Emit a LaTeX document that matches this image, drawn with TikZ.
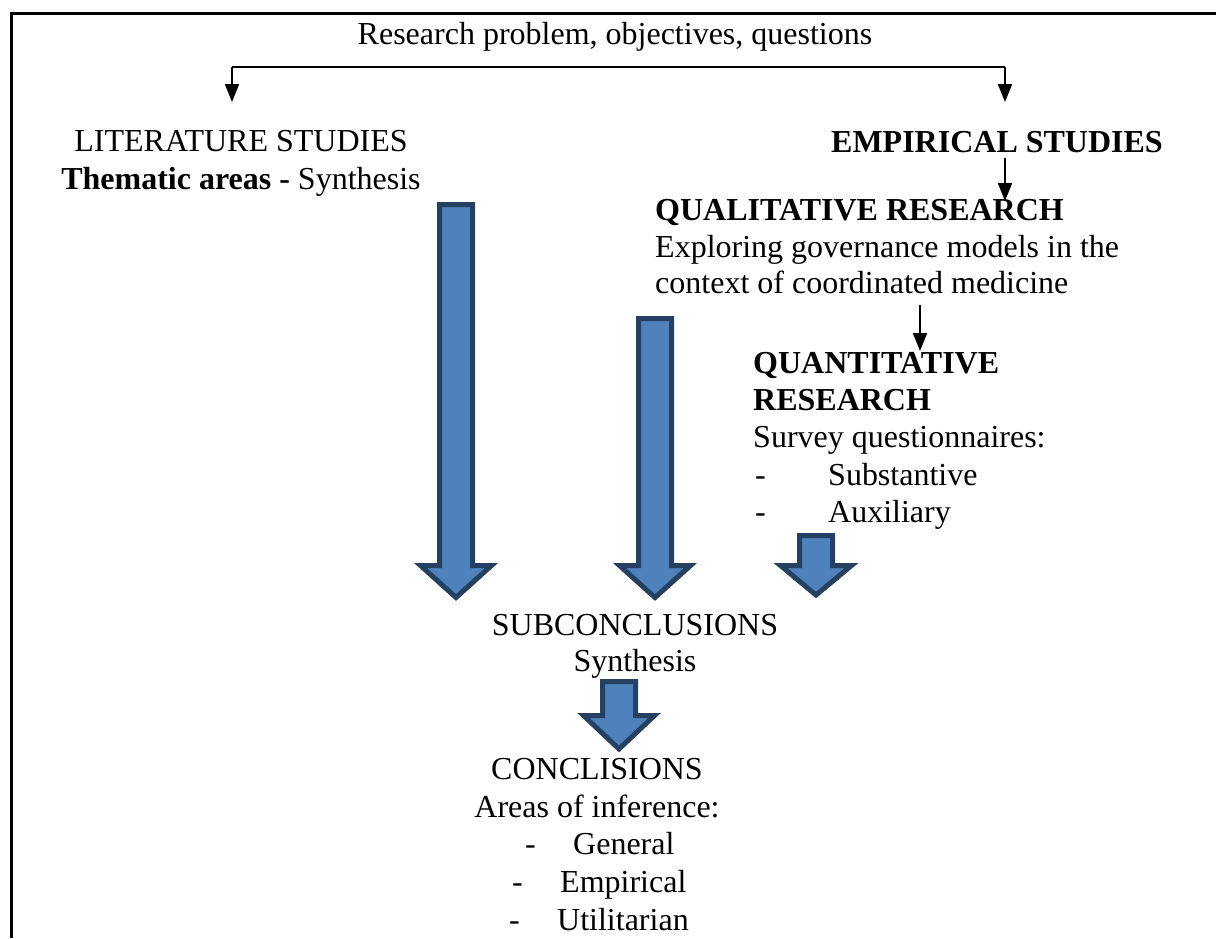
\documentclass[tikz,border=0pt]{standalone}
\usepackage{fontspec}
\setmainfont{Liberation Serif}
\usetikzlibrary{arrows.meta}
\definecolor{bafill}{RGB}{79,129,189}
\definecolor{badraw}{RGB}{38,64,97}
\tikzset{
  txt/.style={inner sep=0pt, anchor=base, font=\fontsize{32}{38}\selectfont},
  txtl/.style={txt, anchor=base west},
  conn/.style={line width=2pt, -{Triangle[width=14pt,length=18pt]}},
  plain/.style={line width=2pt},
  frame/.style={line width=3pt},
  blockarrow/.style={fill=bafill, draw=badraw, line width=5pt, line join=miter}
}
% cx, top, base, tip
\newcommand{\blockarr}[4]{%
  \draw[blockarrow] (#1-16.5,#2) -- (#1+16.5,#2) -- (#1+16.5,#3) -- (#1+35.5,#3)
    -- (#1,#4) -- (#1-35.5,#3) -- (#1-16.5,#3) -- cycle;}
\begin{document}
\begin{tikzpicture}[x=1pt,y=-1pt]
\useasboundingbox (0,0) rectangle (1216,938);
% frame (top and left only)
\draw[frame] (11,938) -- (11,13) -- (1216,13);

% top
\node[txt] (top) at (615,44) {Research problem, objectives, questions};
\coordinate (bl) at (232,67);
\coordinate (br) at (1005,67);
\coordinate (blt) at (232,102);
\coordinate (brt) at (1005,102);
\draw[plain] (bl) -- (br);
\draw[conn] (bl) -- (blt);
\draw[conn] (br) -- (brt);

% literature
\node[txt] (lit) at (241,151) {LITERATURE STUDIES};
\node[txt] (lit2) at (241,189) {\textbf{Thematic areas -} Synthesis};

% empirical
\node[txt] (emp) at (997,152) {\textbf{EMPIRICAL STUDIES}};
\coordinate (e1) at (1005,158);
\coordinate (e2) at (1005,201);
\draw[conn] (e1) -- (e2);

% qualitative
\node[txtl] (qual) at (655,220) {\textbf{QUALITATIVE RESEARCH}};
\node[txtl] (qual2) at (655,257) {Exploring governance models in the};
\node[txtl] (qual3) at (655,293) {context of coordinated medicine};
\coordinate (q1) at (920,305);
\coordinate (q2) at (920,351);
\draw[conn] (q1) -- (q2);

% quantitative
\node[txtl] (quant) at (753,373) {\textbf{QUANTITATIVE}};
\node[txtl] (quant2) at (753,410) {\textbf{RESEARCH}};
\node[txtl] (survey) at (753,447) {Survey questionnaires:};
\node[txtl] (d1) at (755,485) {-};
\node[txtl] (subst) at (828,485) {Substantive};
\node[txtl] (d2) at (755,522) {-};
\node[txtl] (aux) at (828,522) {Auxiliary};

% block arrows
\blockarr{456}{204.5}{565.5}{597.5}
\blockarr{655}{318.5}{565.5}{597.5}
\blockarr{816}{535.5}{565.5}{595}
\blockarr{619}{681.5}{715.5}{749}

% subconclusions
\node[txt] (sub) at (635,635) {SUBCONCLUSIONS};
\node[txt] (syn) at (635,671) {Synthesis};

% conclusions
\node[txt] (conc) at (597,779) {CONCLISIONS};
\node[txt] (areas) at (597,817) {Areas of inference:};
\node[txtl] (d3) at (525,854) {-};
\node[txtl] (gen) at (573,854) {General};
\node[txtl] (d4) at (512,892) {-};
\node[txtl] (emp2) at (560,892) {Empirical};
\node[txtl] (d5) at (509,930) {-};
\node[txtl] (util) at (557,930) {Utilitarian};
\end{tikzpicture}
\end{document}
